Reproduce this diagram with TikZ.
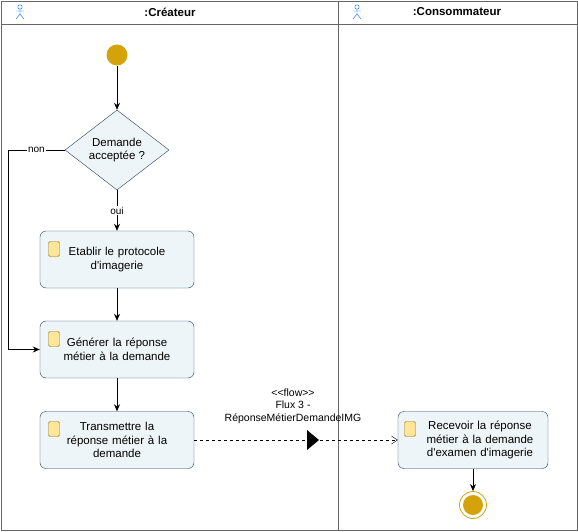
\documentclass[tikz,border=0pt]{standalone}
\usepackage{fontspec}
\setmainfont{Liberation Sans}
\usetikzlibrary{shapes.geometric,arrows.meta}
\definecolor{bx}{HTML}{EEF5F8}
\definecolor{bd}{HTML}{1F3F5F}
\definecolor{gold}{HTML}{D4A30A}
\definecolor{nt}{HTML}{FFE699}
\begin{document}
\begin{tikzpicture}[x=1pt,y=-1pt,font=\fontsize{11.5}{13.5}\selectfont,
 box/.style={draw=bd,fill=bx,rounded corners=6pt,minimum width=154pt,minimum height=57pt,align=center,text width=110pt},
 arr/.style={-{Stealth[length=7pt,width=6pt]},thick},
 note/.style={draw=gold!70!black,fill=nt,rounded corners=1.5pt,minimum width=11pt,minimum height=15pt,inner sep=0pt}]
\useasboundingbox (0,0) rectangle (578,532);
\draw[gray!80!black] (1,1) rectangle (577,530);
\draw[gray!80!black] (1,24) -- (577,24);
\draw[gray!80!black] (338,1) -- (338,530);
\node[font=\bfseries\fontsize{11.5}{13}\selectfont] (h1) at (170,12) {:Créateur};
\node[font=\bfseries\fontsize{11.5}{13}\selectfont] (h2) at (457,12) {:Consommateur};
\foreach \ax in {20,357}{
 \draw[blue!60!cyan,thin] (\ax,7) circle (2.2);
 \draw[blue!60!cyan,thin] (\ax,9.2)--(\ax,14) (\ax-4,11)--(\ax+4,11) (\ax-4,19)--(\ax,14)--(\ax+4,19);}
\node[circle,fill=gold,minimum size=21pt,inner sep=0] (s) at (117,55) {};
\node[diamond,draw=bd,fill=bx,minimum width=104pt,minimum height=80pt,inner sep=0,align=center,aspect=1.3] (d) at (117,150) {Demande\\acceptée ?};
\node[box] (b1) at (117,259.5) {Etablir le protocole\\d\textquotesingle imagerie};
\node[box] (b2) at (117,349.5) {Générer la réponse\\métier à la demande};
\node[box] (b3) at (117,440) {Transmettre la\\réponse métier à la\\demande};
\node[box,minimum width=150pt,text width=125pt] (b4) at (473,440) {\hspace*{14pt}Recevoir la réponse\\\hspace*{14pt}métier à la demande\\\hspace*{14pt}d\textquotesingle examen d\textquotesingle imagerie};
\node[note] (nb1) at (54,249) {};
\node[note] (nb2) at (54,339) {};
\node[note] (nb3) at (54,429) {};
\node[note] (nb4) at (410,429) {};
\node[circle,draw=gold,thick,minimum size=27pt,inner sep=0] (e) at (473,505) {};
\node[circle,fill=gold,minimum size=20pt,inner sep=0] (ei) at (473,505) {};
\draw[arr] (s) -- (d);
\draw[arr] (d) -- node[fill=white,inner sep=1pt,font=\fontsize{10}{12}\selectfont] {oui} (b1);
\draw[arr] (d.west) -- node[fill=white,inner sep=1pt,pos=0.5,font=\fontsize{10}{12}\selectfont] {non} (8,150) -- (8,349.5) -- (b2.west);
\draw[arr] (b1) -- (b2);
\draw[arr] (b2) -- (b3);
\draw[dashed,-{Straight Barb[length=6pt,width=8pt]}] (b3) -- (b4);
\coordinate (m) at (312,440);
\fill (m)+(-5,-10) -- +(7,0) -- +(-5,10) -- cycle;
\node[align=center,font=\fontsize{10.5}{12.5}\selectfont] (lab) at (293,406) {<{}<flow>{}>\\Flux 3 -\\RéponseMétierDemandeIMG};
\draw[arr] (b4) -- (e);
\end{tikzpicture}
\end{document}
